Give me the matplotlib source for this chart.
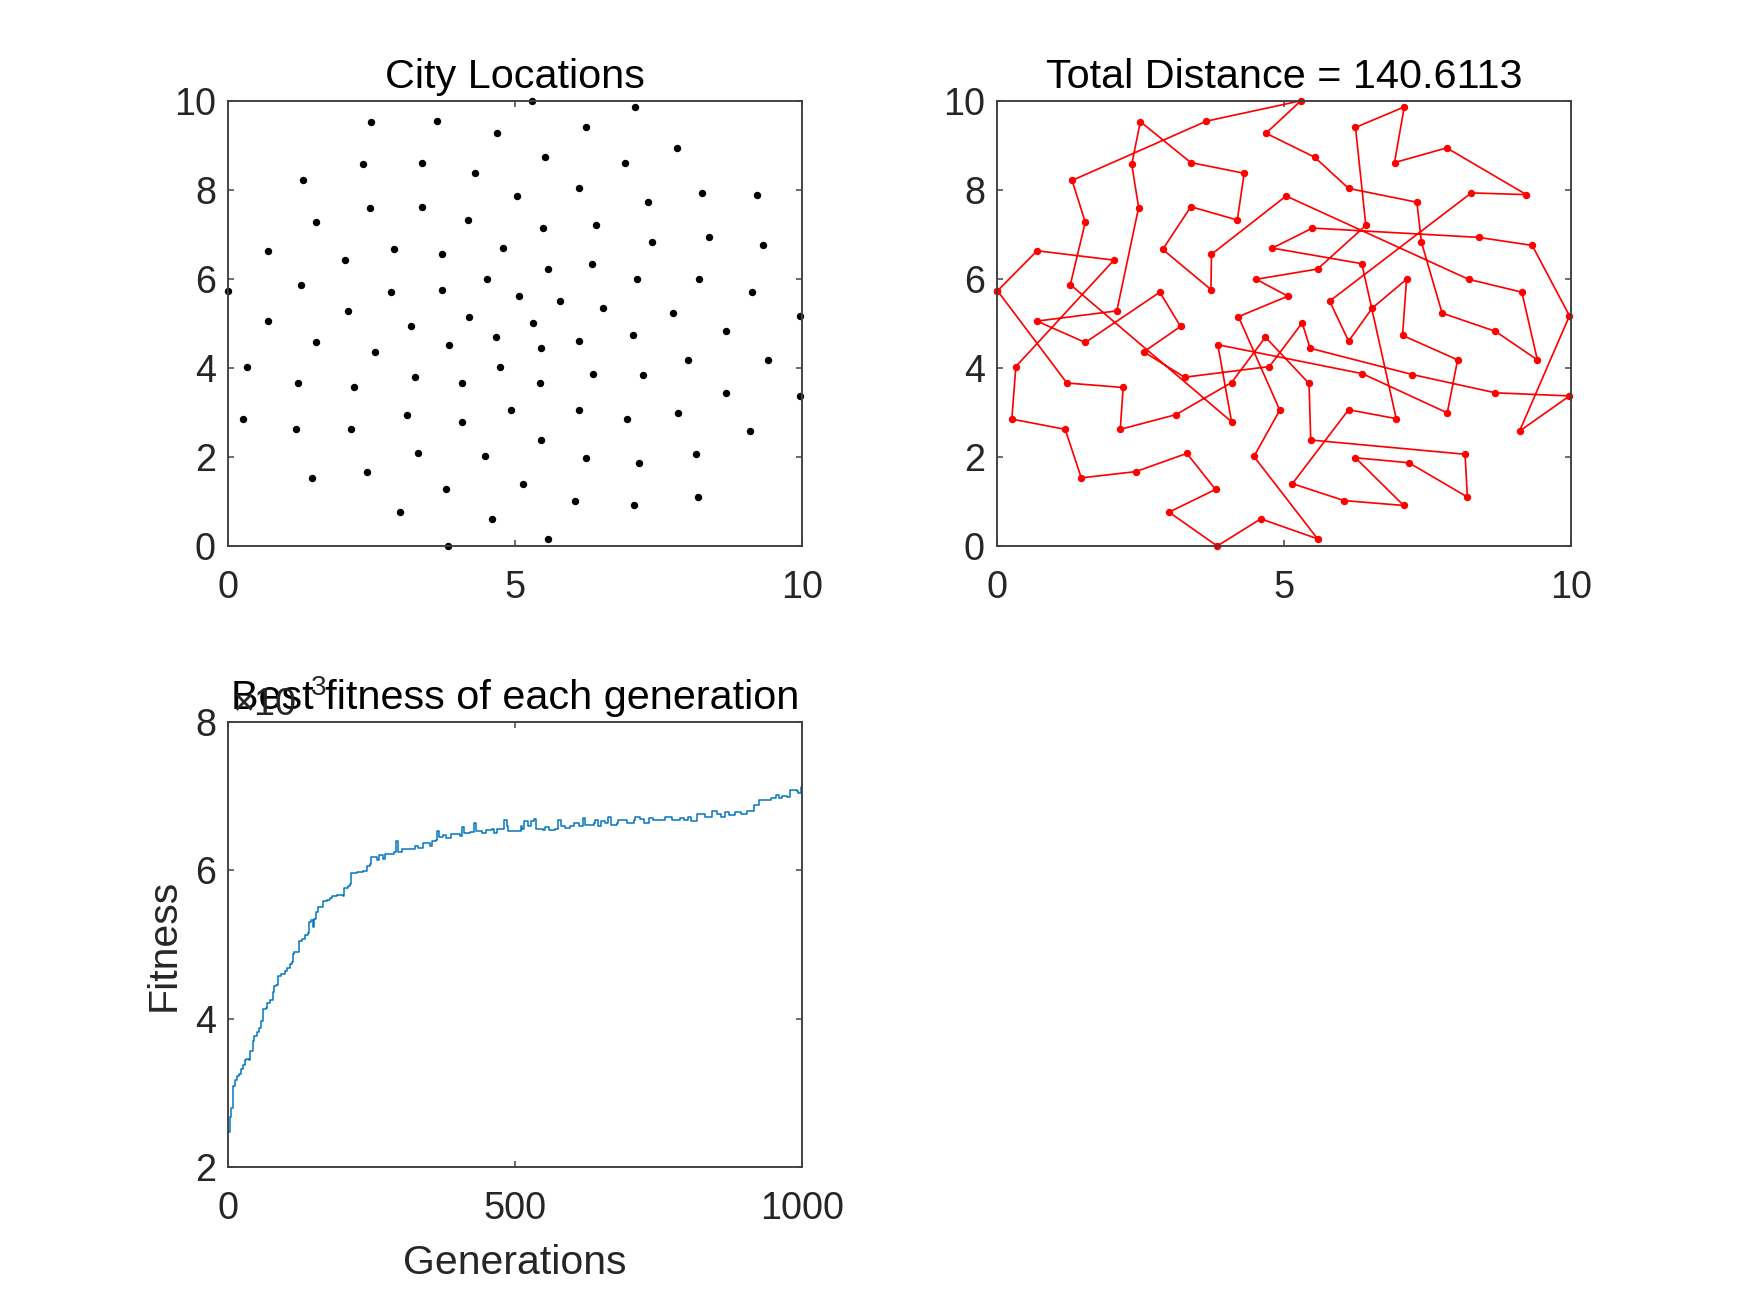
#!/usr/bin/env python3

import matplotlib

matplotlib.use("Agg")
import matplotlib.pyplot as plt

WIDTH = 1750
HEIGHT = 1313

# tour order, closed when drawn
city_x = [
    0.00, 0.69, 2.03, 0.32, 0.25, 1.18, 1.46, 2.41, 3.30, 3.80,
    2.99, 3.83, 4.59, 5.58, 4.47, 4.92, 4.20, 5.06, 4.51, 5.58,
    6.42, 6.24, 7.09, 6.92, 7.83, 9.22, 8.26, 5.79, 6.12, 6.53,
    7.13, 7.06, 8.02, 7.84, 6.36, 3.84, 4.08, 1.27, 1.53, 1.30,
    3.64, 5.29, 4.68, 5.53, 6.12, 7.31, 7.39, 7.75, 8.68, 9.41,
    9.14, 8.21, 5.03, 3.73, 3.72, 2.88, 3.37, 4.18, 4.30, 3.37,
    2.49, 2.34, 2.46, 2.08, 0.69, 1.53, 2.83, 3.19, 2.55, 3.26,
    4.74, 5.31, 5.45, 7.23, 8.68, 9.97, 9.10, 9.97, 9.32, 8.39,
    5.49, 4.79, 6.35, 6.95, 6.12, 5.14, 6.04, 7.08, 6.24, 7.17,
    8.19, 8.15, 5.46, 5.43, 4.67, 4.08, 3.11, 2.14, 2.19, 1.21,
]
city_y = [
    5.73, 6.63, 6.42, 4.03, 2.85, 2.62, 1.53, 1.67, 2.08, 1.27,
    0.76, 0.00, 0.61, 0.16, 2.01, 3.05, 5.15, 5.61, 5.99, 6.22,
    7.20, 9.40, 9.86, 8.61, 8.94, 7.89, 7.93, 5.50, 4.60, 5.34,
    5.99, 4.73, 4.18, 2.99, 3.87, 4.52, 2.79, 5.87, 7.27, 8.21,
    9.54, 10.00, 9.27, 8.73, 8.03, 7.72, 6.82, 5.23, 4.82, 4.18,
    5.70, 5.99, 7.86, 6.55, 5.76, 6.66, 7.62, 7.32, 8.37, 8.61,
    9.53, 8.57, 7.60, 5.28, 5.05, 4.57, 5.70, 4.93, 4.36, 3.79,
    4.03, 5.01, 4.44, 3.85, 3.44, 3.37, 2.58, 5.17, 6.75, 6.93,
    7.14, 6.69, 6.34, 2.86, 3.06, 1.40, 1.02, 0.91, 1.98, 1.87,
    1.10, 2.06, 2.38, 3.65, 4.69, 3.67, 2.95, 2.62, 3.56, 3.66,
]

generations = [
    0, 2, 4, 7, 8, 11, 15, 18, 21, 25, 29, 31, 35, 38, 42, 45, 49, 54, 57, 60,
    65, 68, 72, 77, 80, 83, 87, 92, 98, 102, 107, 110, 112, 115, 119, 123, 128,
    133, 138, 141, 144, 147, 150, 152, 157, 165, 171, 177, 180, 189, 199, 201,
    209, 212, 213, 224, 235, 242, 247, 249, 259, 263, 269, 273, 282, 288, 292,
    293, 295, 302, 311, 317, 325, 331, 340, 352, 355, 362, 364, 368, 375, 380,
    389, 404, 407, 410, 421, 428, 432, 442, 450, 459, 463, 468, 477, 481, 485,
    488, 503, 510, 512, 516, 522, 527, 533, 537, 549, 552, 560, 570, 575, 580,
    587, 596, 602, 611, 618, 622, 637, 639, 645, 650, 657, 662, 667, 677, 679,
    695, 707, 709, 718, 725, 733, 741, 756, 762, 769, 773, 785, 788, 794, 802,
    807, 817, 832, 843, 852, 859, 866, 874, 884, 894, 904, 913, 917, 925, 926,
    939, 946, 955, 960, 965, 974, 980, 992, 994, 998, 1000,
]
fitness = [
    2480, 2680, 2800, 2810, 3090, 3180, 3230, 3250, 3320, 3380, 3450, 3460, 3450,
    3560, 3700, 3770, 3820, 3880, 3970, 4130, 4150, 4210, 4250, 4360, 4440, 4450,
    4570, 4600, 4640, 4680, 4730, 4760, 4870, 4900, 4900, 5040, 5070, 5120, 5160,
    5300, 5330, 5240, 5340, 5430, 5500, 5590, 5600, 5630, 5650, 5670, 5650, 5760,
    5790, 5810, 5960, 5970, 5990, 6050, 6080, 6170, 6140, 6200, 6150, 6220, 6210,
    6240, 6390, 6390, 6240, 6290, 6280, 6280, 6330, 6300, 6370, 6330, 6390, 6410,
    6520, 6450, 6470, 6430, 6480, 6460, 6580, 6500, 6510, 6630, 6520, 6500, 6540,
    6550, 6500, 6550, 6550, 6670, 6590, 6520, 6520, 6590, 6550, 6660, 6590, 6660,
    6690, 6550, 6540, 6580, 6540, 6550, 6680, 6590, 6570, 6590, 6630, 6590, 6700,
    6610, 6630, 6680, 6590, 6660, 6630, 6710, 6610, 6630, 6670, 6630, 6670, 6720,
    6690, 6640, 6700, 6670, 6680, 6720, 6710, 6670, 6670, 6700, 6680, 6710, 6660,
    6750, 6720, 6790, 6760, 6710, 6780, 6740, 6780, 6760, 6800, 6800, 6870, 6870,
    6940, 6940, 6970, 7010, 6970, 7000, 6980, 7080, 7070, 7040, 7120, 7100,
]

city_ticks = [0, 2, 4, 6, 8, 10]
city_xticks = [0, 5, 10]
fitness_xticks = [0, 500, 1000]
fitness_yticks = [2000, 4000, 6000, 8000]
fitness_yticklabels = ["2", "4", "6", "8"]

INK = "#262626"
SPINE = "#404040"
PX = 72 / 100  # points per pixel at dpi=100


def px_axes(fig, left, top, right, bottom):
    return fig.add_axes(
        [left / WIDTH, 1 - bottom / HEIGHT, (right - left) / WIDTH, (bottom - top) / HEIGHT]
    )


def style_axes(ax, title):
    ax.tick_params(
        which="both", direction="in", top=True, right=True, length=6 * PX, width=1.5 * PX,
        color=SPINE, labelcolor=INK, labelsize=27.2, pad=9,
    )
    ax.tick_params(axis="x", pad=17)
    for spine in ax.spines.values():
        spine.set_linewidth(1.9 * PX)
        spine.set_color(SPINE)
    ax.set_title(title, fontsize=29.8, color="black", pad=9)


def main():
    plt.rcParams["font.family"] = ["Liberation Sans", "DejaVu Sans"]
    fig = plt.figure(figsize=(WIDTH / 100, HEIGHT / 100), dpi=100)

    ax1 = px_axes(fig, 228.5, 100.7, 801.7, 546)
    ax1.plot(city_x, city_y, ls="none", marker="o", ms=6 * PX, color="black", clip_on=False)
    ax1.set_xlim(0, 10)
    ax1.set_ylim(0, 10)
    ax1.set_xticks(city_xticks)
    ax1.set_yticks(city_ticks)
    style_axes(ax1, "City Locations")

    ax2 = px_axes(fig, 997.5, 100.7, 1571.2, 546)
    ax2.plot(
        city_x + city_x[:1], city_y + city_y[:1], color="#ff0000", lw=1.7 * PX,
        marker="o", ms=6 * PX, clip_on=False,
    )
    ax2.set_xlim(0, 10)
    ax2.set_ylim(0, 10)
    ax2.set_xticks(city_xticks)
    ax2.set_yticks(city_ticks)
    style_axes(ax2, "Total Distance = 140.6113")

    ax3 = px_axes(fig, 228.5, 721.5, 801.7, 1167.3)
    ax3.plot(generations, fitness, color="#0072BD", lw=1.5 * PX, drawstyle="steps-post")
    ax3.set_xlim(0, 1000)
    ax3.set_ylim(2000, 8000)
    ax3.set_xticks(fitness_xticks)
    ax3.set_yticks(fitness_yticks)
    ax3.set_yticklabels(fitness_yticklabels)
    ax3.set_xlabel("Generations", fontsize=29.5, color=INK, labelpad=12)
    ax3.set_ylabel("Fitness", fontsize=29.5, color=INK, labelpad=9)
    style_axes(ax3, "Best fitness of each generation")

    # exponent label sits under the title, same as the source figure
    fig.text(232 / WIDTH, 1 - 715 / HEIGHT, "\u00d710", fontsize=27.2, color=INK)
    fig.text(311 / WIDTH, 1 - 695 / HEIGHT, "3", fontsize=20, color=INK)

    fig.savefig("out.png", dpi=100)
    plt.close(fig)


if __name__ == "__main__":
    main()
